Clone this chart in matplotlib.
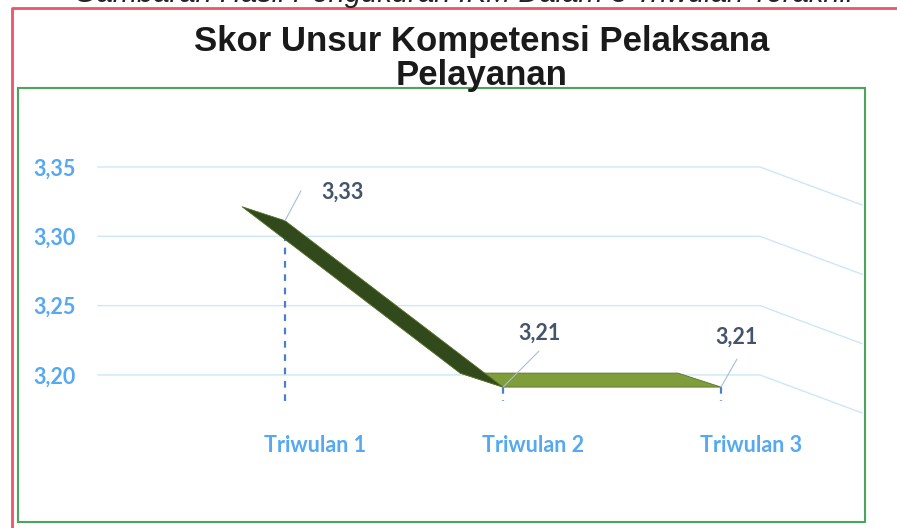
import numpy as np
import matplotlib.pyplot as plt
from matplotlib.patches import Polygon, Rectangle
from matplotlib.lines import Line2D
from matplotlib.transforms import ScaledTranslation, blended_transform_factory

#Data
quarters = ['Triwulan 1', 'Triwulan 2', 'Triwulan 3']
scores = [3.33, 3.21, 3.21]
score_labels = ['3,33', '3,21', '3,21']
yticks = [3.20, 3.25, 3.30, 3.35]
ytick_labels = ['3,20', '3,25', '3,30', '3,35']

plt.rcParams['font.family'] = ['Lato', 'DejaVu Sans']

W, H = 897, 528
fig = plt.figure(figsize=(W / 100, H / 100), dpi=100)

ax = fig.add_axes([98 / W, 1 - 430 / H, 662 / W, 330 / H])
ax.set_xlim(-0.858, 2.179)
ax.set_ylim(3.1603, 3.3983)
for s in ax.spines.values():
    s.set_visible(False)

# back wall gridlines + side wall slant
x0, x1 = ax.get_xlim()
for yt in yticks:
    ax.plot([x0, x1, x1 + 0.468], [yt, yt, yt - 0.0274], color='#cde7f7', lw=1,
            clip_on=False, zorder=1)

ax.set_yticks(yticks, ytick_labels)
ax.tick_params(axis='y', length=0, pad=16, labelcolor='#55a8f2', labelsize=15.5)
for lab in ax.get_yticklabels():
    lab.set_fontweight('bold')

# category labels sit a bit right of the points (3D floor)
ax.set_xticks([])
cat_tr = blended_transform_factory(ax.transData, ax.transAxes) + \
    ScaledTranslation(0.30, -0.15, fig.dpi_scale_trans)
for i, q in enumerate(quarters):
    ax.text(i, 0, q, transform=cat_tr, ha='center', va='center', color='#55a8f2',
            fontsize=15.5, fontweight='bold')

# 3D-ish ribbon: front and back edges shifted from the wall
front_tr = ax.transData + ScaledTranslation(0, -0.26, fig.dpi_scale_trans)
back_tr = ax.transData + ScaledTranslation(-0.43, -0.12, fig.dpi_scale_trans)
pts = np.column_stack([np.arange(len(scores)), scores])
f = ax.transData.inverted().transform(front_tr.transform(pts))
b = ax.transData.inverted().transform(back_tr.transform(pts))
seg_colors = ['#324a1b', '#7f9d3b']
for i in range(len(scores) - 1):
    ax.add_patch(Polygon([f[i], f[i + 1], b[i + 1], b[i]], closed=True,
                         fc=seg_colors[i], ec='#56732a', lw=0.6,
                         zorder=4 if i == 0 else 3))

# drop lines
for i, v in enumerate(scores):
    ax.plot([i, i], [v, 3.20], transform=front_tr, color='#4a7fd0', lw=1.6,
            ls=(0, (3, 3)), zorder=2, clip_on=False)

# data labels with leader lines
label_off = [(57, -28), (37, -54), (16, -50)]
leader_off = [(16, -30), (36, -36), (16, -28)]
for i, v in enumerate(scores):
    lx, ly = leader_off[i]
    ax.annotate('', xy=(i, v), xycoords=front_tr, xytext=(lx * 0.72, -ly * 0.72),
                textcoords='offset points',
                arrowprops=dict(arrowstyle='-', color='#a9bcd8', lw=0.8,
                                shrinkA=0, shrinkB=0), zorder=5)
    tx, ty = label_off[i]
    ax.annotate(score_labels[i], xy=(i, v), xycoords=front_tr,
                xytext=(tx * 0.72, -ty * 0.72), textcoords='offset points',
                ha='center', va='center', color='#44546a', fontsize=15.5,
                fontweight='bold', zorder=6)

# frames
fig.add_artist(Line2D([12 / W, 12 / W, 1], [0, 1 - 8 / H, 1 - 8 / H],
                      color='#e9566c', lw=2))
fig.add_artist(Rectangle((18 / W, 1 - 522 / H), 847 / W, 434 / H, fill=False,
                         ec='#4ba65b', lw=1.5, transform=fig.transFigure))

# titles (the first one is cut at the top edge, as in the source)
fig.text(465 / W, 1 - 2 / H, 'Gambaran Hasil Pengukuran IKM Dalam 3 Triwulan Terakhir',
         ha='center', va='baseline', style='italic', fontsize=21,
         family=['Liberation Sans', 'DejaVu Sans'], color='#222222')
fig.text(482 / W, 1 - 42 / H, 'Skor Unsur Kompetensi Pelaksana', ha='center',
         va='center', fontsize=25, fontweight='bold',
         family=['Liberation Sans', 'DejaVu Sans'], color='#1a1a1a')
fig.text(482 / W, 1 - 75 / H, 'Pelayanan', ha='center', va='center', fontsize=25,
         fontweight='bold', family=['Liberation Sans', 'DejaVu Sans'], color='#1a1a1a')

fig.savefig('out.png', dpi=100, facecolor='white')
